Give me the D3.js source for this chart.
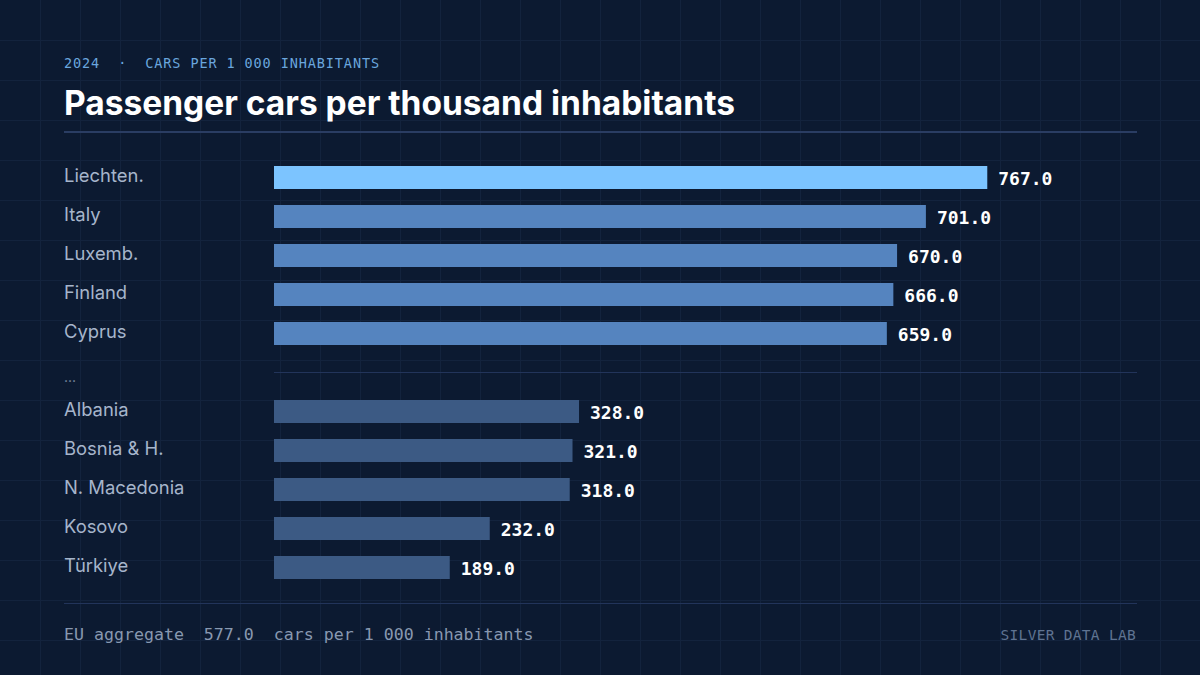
<!DOCTYPE html>
<html>
<head>
<meta charset="utf-8">
<script src="https://d3js.org/d3.v7.min.js"></script>
<style>
  html, body { margin: 0; padding: 0; background: #0c1a31; }
  svg { display: block; }
</style>
</head>
<body>
<script>
// data (2024, cars per 1 000 inhabitants)
const topCountries = ['Liechten.', 'Italy', 'Luxemb.', 'Finland', 'Cyprus'];
const topValues = [767, 701, 670, 666, 659];
const bottomCountries = ['Albania', 'Bosnia & H.', 'N. Macedonia', 'Kosovo', 'Türkiye'];
const bottomValues = [328, 321, 318, 232, 189];
const euAggregate = 577;

const width = 1200, height = 675;
const left = 64, right = 1136;

const svg = d3.select('body')
  .append('svg')
  .attr('width', width)
  .attr('height', height);

svg.append('rect')
  .attr('width', width)
  .attr('height', height)
  .attr('fill', '#0c1a31');

// faint background grid
const grid = svg.append('g').attr('stroke', '#13233d').attr('stroke-width', 1);
grid.selectAll('.gv')
  .data(d3.range(40, width, 40))
  .join('line')
  .attr('x1', d => d + 0.5).attr('x2', d => d + 0.5)
  .attr('y1', 0).attr('y2', height);
grid.selectAll('.gh')
  .data(d3.range(40, height, 40))
  .join('line')
  .attr('y1', d => d + 0.5).attr('y2', d => d + 0.5)
  .attr('x1', 0).attr('x2', width);

// header
svg.append('text')
  .attr('x', left)
  .attr('y', 68)
  .attr('fill', '#6aa6de')
  .attr('font-family', 'DejaVu Sans Mono, monospace')
  .attr('font-size', 13.5)
  .attr('letter-spacing', 0.9)
  .attr('xml:space', 'preserve')
  .text('2024  ·  CARS PER 1 000 INHABITANTS');

svg.append('text')
  .attr('x', left)
  .attr('y', 115)
  .attr('fill', '#ffffff')
  .attr('font-family', 'Inter, Roboto, sans-serif')
  .attr('font-weight', 700)
  .attr('font-size', 33.5)
  .attr('letter-spacing', 0)
  .text('Passenger cars per thousand inhabitants');

svg.append('line')
  .attr('x1', left).attr('x2', right + 1)
  .attr('y1', 132).attr('y2', 132)
  .attr('stroke', '#2a3d63')
  .attr('stroke-width', 2);

// rows: top five, a gap, bottom five
const rows = topCountries.map((c, i) => ({ name: c, value: topValues[i], group: 'top', rank: i }))
  .concat([{ name: '...', value: null, group: 'gap' }])
  .concat(bottomCountries.map((c, i) => ({ name: c, value: bottomValues[i], group: 'bottom', rank: i })));

const y = d3.scaleBand()
  .domain(d3.range(rows.length))
  .range([166 - 8, 166 - 8 + 39 * rows.length])
  .paddingInner(16 / 39)
  .paddingOuter(8 / 39);

const x = d3.scaleLinear()
  .domain([0, 928])
  .range([274, right + 1]);

const color = d => d.group === 'top' ? (d.rank === 0 ? '#7cc4ff' : '#5584bf') : '#3c5a84';

const bars = rows.filter(d => d.value !== null);
const idx = d => rows.indexOf(d);

svg.selectAll('.bar')
  .data(bars)
  .join('rect')
  .attr('class', 'bar')
  .attr('x', x(0))
  .attr('y', d => y(idx(d)))
  .attr('width', d => x(d.value) - x(0))
  .attr('height', y.bandwidth())
  .attr('fill', color);

svg.selectAll('.value')
  .data(bars)
  .join('text')
  .attr('class', 'value')
  .attr('x', d => x(d.value) + 11)
  .attr('y', d => y(idx(d)) + y.bandwidth() / 2 + 7.5)
  .attr('fill', '#ffffff')
  .attr('font-family', 'DejaVu Sans Mono, monospace')
  .attr('font-weight', 700)
  .attr('font-size', 18)
  .text(d => d3.format('.1f')(d.value));

svg.selectAll('.label')
  .data(rows)
  .join('text')
  .attr('class', 'label')
  .attr('x', left)
  .attr('y', d => y(idx(d)) + y.bandwidth() / 2 + (d.group === 'gap' ? 9 : 4))
  .attr('fill', d => d.group === 'gap' ? '#7d8ca3' : '#a6b5cb')
  .attr('font-family', 'Inter, Roboto, sans-serif')
  .attr('font-size', d => d.group === 'gap' ? 14 : 18.4)
  .text(d => d.name);

// separator in the gap row
const gapRow = rows.findIndex(d => d.group === 'gap');
svg.append('line')
  .attr('x1', x(0)).attr('x2', right + 1)
  .attr('y1', y(gapRow) + y.bandwidth() / 2).attr('y2', y(gapRow) + y.bandwidth() / 2)
  .attr('stroke', '#22345a')
  .attr('stroke-width', 1);

// footer
svg.append('line')
  .attr('x1', left).attr('x2', right + 1)
  .attr('y1', 603.5).attr('y2', 603.5)
  .attr('stroke', '#22345a')
  .attr('stroke-width', 1);

svg.append('text')
  .attr('x', left)
  .attr('y', 640)
  .attr('fill', '#8898b0')
  .attr('font-family', 'DejaVu Sans Mono, monospace')
  .attr('font-size', 16.6)
  .attr('xml:space', 'preserve')
  .text(`EU aggregate  ${d3.format('.1f')(euAggregate)}  cars per 1 000 inhabitants`);

svg.append('text')
  .attr('x', right)
  .attr('y', 640)
  .attr('text-anchor', 'end')
  .attr('fill', '#5f7391')
  .attr('font-family', 'DejaVu Sans Mono, monospace')
  .attr('font-size', 14.5)
  .attr('letter-spacing', 0.3)
  .text('SILVER DATA LAB');
</script>
</body>
</html>
